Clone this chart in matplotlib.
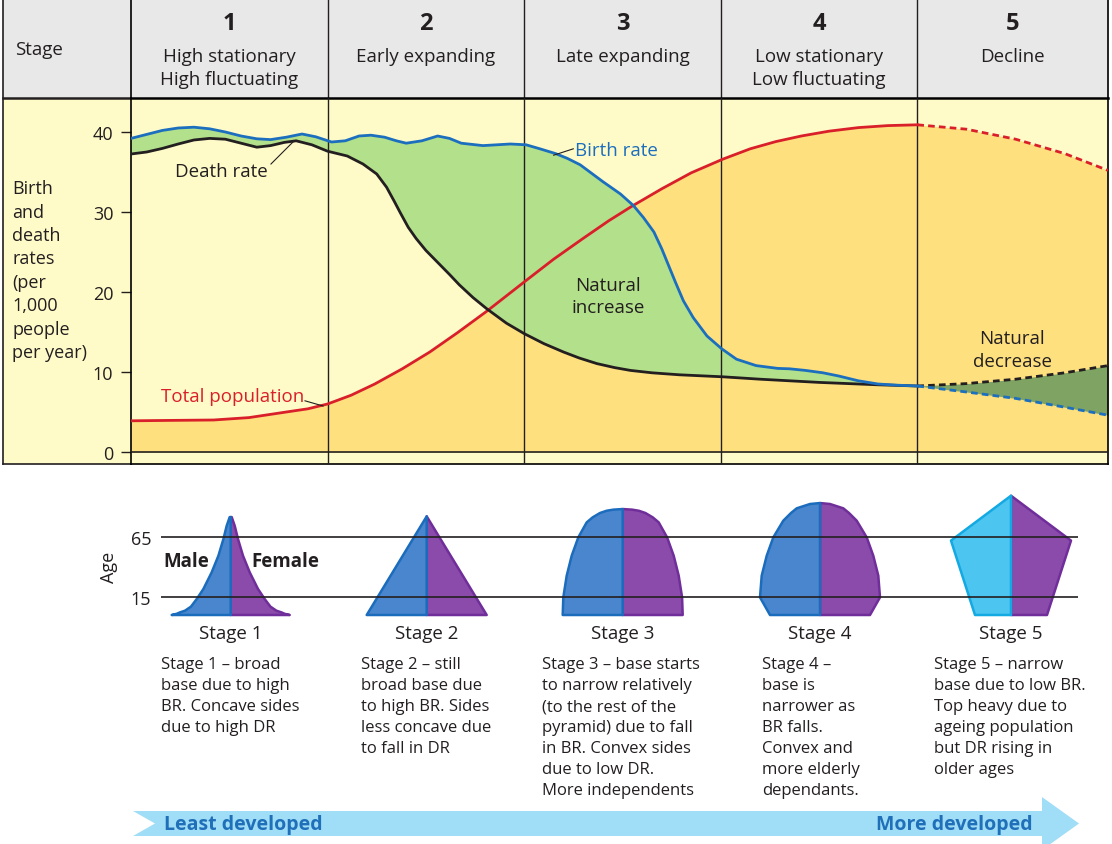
import numpy as np
import matplotlib.pyplot as plt
from matplotlib.patches import Rectangle, Polygon

plt.rcParams['font.family'] = ['Open Sans', 'DejaVu Sans']

# ---- data ----
stage_numbers = ['1', '2', '3', '4', '5']
stage_names = [['High stationary', 'High fluctuating'], ['Early expanding'],
               ['Late expanding'], ['Low stationary', 'Low fluctuating'], ['Decline']]
rate_ticks = [0, 10, 20, 30, 40]
rate_label = ['Birth', 'and', 'death', 'rates', '(per', '1,000', 'people', 'per year)']

# x in stage units (each stage = 1), y in births/deaths per 1000
birth_x = [0.00, 0.08, 0.16, 0.24, 0.32, 0.40, 0.48, 0.56, 0.64, 0.71, 0.79, 0.87, 0.94,
           1.02, 1.09, 1.16, 1.22, 1.29, 1.35, 1.40, 1.48, 1.56, 1.62, 1.68, 1.79, 1.86,
           1.93, 2.01, 2.08, 2.16, 2.22, 2.285, 2.40, 2.49, 2.556, 2.607, 2.66, 2.70, 2.735,
           2.77, 2.81, 2.86, 2.93, 3.005, 3.08, 3.18, 3.29, 3.35, 3.43, 3.52, 3.60, 3.70,
           3.80, 3.90, 4.00]
birth_y = [39.2, 39.7, 40.2, 40.5, 40.6, 40.4, 40.0, 39.5, 39.15, 39.05, 39.35, 39.75, 39.4,
           38.75, 38.9, 39.5, 39.6, 39.35, 38.9, 38.6, 38.9, 39.5, 39.2, 38.6, 38.3, 38.4,
           38.5, 38.4, 37.9, 37.3, 36.7, 35.9, 33.8, 32.25, 30.8, 29.3, 27.5, 25.4, 23.3,
           21.2, 18.9, 16.8, 14.5, 12.9, 11.6, 10.8, 10.45, 10.4, 10.2, 9.9, 9.5, 8.9,
           8.5, 8.35, 8.25]

death_x = [0.00, 0.08, 0.16, 0.24, 0.32, 0.40, 0.48, 0.56, 0.64, 0.71, 0.78, 0.84, 0.92,
           1.00, 1.10, 1.18, 1.25, 1.30, 1.34, 1.37, 1.41, 1.45, 1.50, 1.56, 1.62, 1.67,
           1.74, 1.81, 1.91, 2.00, 2.10, 2.20, 2.28, 2.37, 2.46, 2.54, 2.65, 2.79, 3.01,
           3.20, 3.35, 3.50, 3.65, 3.80, 4.00]
death_y = [37.25, 37.5, 37.95, 38.5, 39.0, 39.2, 39.1, 38.6, 38.1, 38.3, 38.7, 38.9, 38.4,
           37.6, 37.0, 36.0, 34.75, 33.1, 31.3, 29.9, 28.1, 26.7, 25.2, 23.7, 22.2, 20.9,
           19.3, 17.9, 16.1, 14.8, 13.55, 12.5, 11.75, 11.05, 10.55, 10.2, 9.9, 9.65, 9.4,
           9.1, 8.9, 8.7, 8.55, 8.4, 8.25]

pop_x = [0.00, 0.20, 0.42, 0.60, 0.79, 0.90, 1.00, 1.12, 1.24, 1.38, 1.52, 1.66, 1.81, 2.00,
         2.15, 2.30, 2.43, 2.55, 2.70, 2.85, 3.01, 3.15, 3.28, 3.41, 3.55, 3.70, 3.85, 4.00]
pop_y = [3.9, 3.95, 4.0, 4.3, 5.0, 5.4, 6.0, 7.1, 8.5, 10.4, 12.5, 14.9, 17.6, 21.25,
         24.1, 26.7, 28.9, 30.75, 32.9, 34.9, 36.6, 37.9, 38.8, 39.5, 40.1, 40.55, 40.8, 40.9]

# stage 5 projections (dashed)
future_x = [4.0, 4.25, 4.5, 4.75, 4.97]
pop_future = [40.9, 40.35, 39.1, 37.3, 35.2]
birth_future = [8.25, 7.5, 6.7, 5.6, 4.6]
death_future = [8.25, 8.55, 9.1, 9.9, 10.8]

# pyramids: age and half-width of each side
pyr_labels = ['Stage 1', 'Stage 2', 'Stage 3', 'Stage 4', 'Stage 5']
pyr_ages = [[0, 1, 2.2, 3.6, 7, 13.3, 21.7, 35.6, 49.4, 63.3, 74.4, 81.6],
            [0, 82.2],
            [0, 14.7, 32.8, 49.4, 64.7, 77.2, 81.4, 85, 86.9, 87.8, 88.3],
            [0, 14.7, 32.8, 49.4, 64.7, 78.6, 85, 88.9, 92.5, 93.3],
            [0, 62, 99.4]]
pyr_width = [[59, 54, 50.7, 45.7, 39.7, 34, 27.3, 19, 12.3, 7.3, 4, 1],
             [60, 0],
             [60, 59.4, 56, 51, 44.4, 36, 30, 22.7, 16, 9.4, 0],
             [50, 60, 58.3, 53.3, 46.7, 36.7, 29, 23.3, 10, 0],
             [36, 60, 0]]
age_ticks = [15, 65]

descriptions = [
    ['Stage 1 \u2013 broad', 'base due to high', 'BR. Concave sides', 'due to high DR'],
    ['Stage 2 \u2013 still', 'broad base due', 'to high BR. Sides', 'less concave due', 'to fall in DR'],
    ['Stage 3 \u2013 base starts', 'to narrow relatively', '(to the rest of the',
     'pyramid) due to fall', 'in BR. Convex sides', 'due to low DR.', 'More independents'],
    ['Stage 4 \u2013', 'base is', 'narrower as', 'BR falls.', 'Convex and', 'more elderly',
     'dependants.'],
    ['Stage 5 \u2013 narrow', 'base due to low BR.', 'Top heavy due to', 'ageing population',
     'but DR rising in', 'older ages'],
]

# ---- colours ----
dark = '#231F20'
yellow = '#FFFBC9'
orange = '#FEE07F'
green = '#B3E08B'
dkgreen = '#7FA363'
grey = '#E8E8E8'
red = '#D9202A'
blue = '#1C6EBE'
male_fc, male_ec = '#4A86CD', '#1B6CBC'
male5_fc, male5_ec = '#4CC5F1', '#13A9E2'
fem_fc, fem_ec = '#8B4BAA', '#6F2E9A'
arrow_c = '#A0DDF6'
arrow_txt = '#1F6FB9'

W, H = 1112, 845
fig = plt.figure(figsize=(W / 100, H / 100), dpi=100)


def px_axes(x0, y0, x1, y1):
    return fig.add_axes([x0 / W, 1 - y1 / H, (x1 - x0) / W, (y1 - y0) / H])


# background (pixel coordinates, y down)
bg = px_axes(0, 0, W, H)
bg.set_xlim(0, W)
bg.set_ylim(H, 0)
bg.axis('off')
bg.add_patch(Rectangle((3, 0), 128, 99, color=grey, lw=0))
bg.add_patch(Rectangle((3, 99), 128, 366, color=yellow, lw=0))
bg.plot([3, 3], [0, 465], color=dark, lw=1.2)
bg.plot([3, 131], [465, 465], color=dark, lw=1.2)
bg.plot([3, 131], [99, 99], color=dark, lw=1.8)
bg.text(15, 55, 'Stage', fontsize=13.5, color=dark, va='baseline')
for i, line in enumerate(rate_label):
    bg.text(12, 194.3 + 23.4 * i, line, fontsize=13, color=dark, va='baseline')

# header row
hdr = px_axes(131, 0, 1108, 99)
hdr.set_xlim(0, 4.97)
hdr.set_ylim(99, 0)
hdr.set_facecolor(grey)
hdr.set_xticks([])
hdr.set_yticks([])
for s in ['top', 'bottom']:
    hdr.spines[s].set_visible(False)
for s in ['left', 'right']:
    hdr.spines[s].set_linewidth(1.2)
edges = [0, 1, 2, 3, 4, 4.97]
for e in edges[1:-1]:
    hdr.axvline(e, color=dark, lw=1)
for i, (num, names) in enumerate(zip(stage_numbers, stage_names)):
    cx = (edges[i] + edges[i + 1]) / 2
    hdr.text(cx, 30, num, fontsize=17, fontweight='bold', color=dark, ha='center', va='baseline')
    for j, nm in enumerate(names):
        hdr.text(cx, 61.7 + 23.3 * j, nm, fontsize=13.5, color=dark, ha='center', va='baseline')

# main chart
ax = px_axes(131, 99, 1108, 465)
ax.set_xlim(0, 4.97)
ax.set_ylim(-1.5, 44.25)
ax.set_facecolor(yellow)
ax.set_xticks([])
ax.set_yticks(rate_ticks)
ax.tick_params(axis='y', length=7.2, width=1, pad=5.5, labelsize=13, color=dark, labelcolor=dark)
ax.spines['top'].set_linewidth(1.8)
for s in ['left', 'right', 'bottom']:
    ax.spines[s].set_linewidth(1.2)

ax.fill_between(pop_x, 0, pop_y, color=orange, lw=0, zorder=1)
ax.fill_between(future_x, 0, pop_future, color=orange, lw=0, zorder=1)
ax.fill(np.r_[birth_x, death_x[::-1]], np.r_[birth_y, death_y[::-1]], color=green, lw=0, zorder=2)
ax.fill_between(future_x, birth_future, death_future, color=dkgreen, lw=0, zorder=2)
ax.axhline(0, color=dark, lw=1.2, zorder=3)
for e in edges[1:-1]:
    ax.axvline(e, color=dark, lw=1, zorder=3)

dash = (0, (2.4, 1.5))
ax.plot(pop_x, pop_y, color=red, lw=2, zorder=4)
ax.plot(future_x, pop_future, color=red, lw=2, ls=dash, zorder=4)
ax.plot(death_x, death_y, color=dark, lw=2, zorder=4)
ax.plot(future_x, death_future, color=dark, lw=2, ls=dash, zorder=4)
ax.plot(birth_x, birth_y, color=blue, lw=2, zorder=5)
ax.plot(future_x, birth_future, color=blue, lw=2, ls=dash, zorder=5)

lab = dict(fontsize=13.5, va='baseline', zorder=6)
ax.text(0.224, 34.5, 'Death rate', color=dark, **lab)
ax.plot([0.712, 0.824], [36.0, 38.75], color=dark, lw=0.8, zorder=6)
ax.text(2.257, 37.125, 'Birth rate', color=blue, **lab)
ax.plot([2.15, 2.25], [37.1, 37.9], color=dark, lw=0.8, zorder=6)
ax.text(0.151, 6.375, 'Total population', color=red, **lab)
ax.plot([0.885, 0.977], [6.4, 5.75], color=dark, lw=0.8, zorder=6)
ax.text(2.425, 20.29, 'Natural', color=dark, ha='center', **lab)
ax.text(2.425, 17.54, 'increase', color=dark, ha='center', **lab)
ax.text(4.483, 13.6, 'Natural', color=dark, ha='center', **lab)
ax.text(4.483, 10.8, 'decrease', color=dark, ha='center', **lab)

# population pyramids (x in pixels, y in years of age)
pyr_centres = [230.7, 426.7, 622.7, 820, 1011]
pa = px_axes(161, 490, 1078, 625)
pa.set_xlim(161, 1078)
pa.set_ylim(-7.5, 105)
pa.patch.set_alpha(0)
for s in pa.spines.values():
    s.set_visible(False)
pa.set_xticks([])
pa.set_yticks(age_ticks)
pa.tick_params(axis='y', length=0, pad=7.2, labelsize=13, labelcolor=dark)

for k, (c, ages, hw) in enumerate(zip(pyr_centres, pyr_ages, pyr_width)):
    ages = np.array(ages, dtype=float)
    hw = np.array(hw, dtype=float)
    top = ages[-1]
    mfc, mec = (male5_fc, male5_ec) if k == 4 else (male_fc, male_ec)
    fem = np.c_[np.r_[c + hw, c, c], np.r_[ages, top, 0]]
    male = np.c_[np.r_[c - hw, c, c], np.r_[ages, top, 0]]
    pa.add_patch(Polygon(fem, closed=True, fc=fem_fc, ec=fem_ec, lw=1.8, joinstyle='round', clip_on=False))
    pa.add_patch(Polygon(male, closed=True, fc=mfc, ec=mec, lw=1.8, joinstyle='round', clip_on=False))
    bg.text(c, 639.5, pyr_labels[k], fontsize=13.5, color=dark, ha='center', va='baseline')

for a in age_ticks:
    pa.axhline(a, color=dark, lw=1.2, zorder=5)

bg.text(109, 567.5, 'Age', rotation=90, fontsize=13, color=dark, ha='center', va='center')
bg.text(163, 566.7, 'Male', fontsize=13.5, fontweight='bold', color=dark, va='baseline')
bg.text(251.7, 566.7, 'Female', fontsize=13.5, fontweight='bold', color=dark, va='baseline')

# descriptions
desc_x = [161, 361, 542, 762, 934]
for x0, lines in zip(desc_x, descriptions):
    for i, line in enumerate(lines):
        bg.text(x0, 669.3 + 21 * i, line, fontsize=12, color=dark, va='baseline')

# development arrow
bg.add_patch(Polygon([(133, 812), (1042, 812), (1042, 798), (1079, 824.5), (1042, 851),
                      (1042, 837), (133, 837), (155, 824.5)], closed=True, fc=arrow_c, lw=0))
bg.text(164, 830.5, 'Least developed', fontsize=14, fontweight='bold', color=arrow_txt, va='baseline')
bg.text(1033, 830.5, 'More developed', fontsize=14, fontweight='bold', color=arrow_txt,
        ha='right', va='baseline')

fig.savefig('out.png', dpi=100)
